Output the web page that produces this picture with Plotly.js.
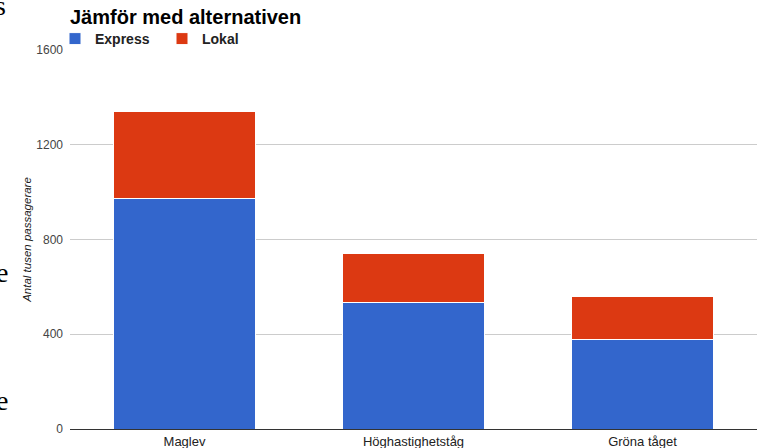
<!DOCTYPE html>
<html>
<head>
<meta charset="utf-8">
<script src="https://cdn.plot.ly/plotly-3.0.1.min.js"></script>
<style>html,body{margin:0;padding:0;background:#fff;}#chart{width:769px;height:448px;}</style>
</head>
<body>
<div id="chart"></div>
<script>
const categories = ["Maglev", "Höghastighetståg", "Gröna tåget"];
const expressValues = [975, 532, 376];
const lokalValues = [367, 211, 185];
const seriesNames = ["Express", "Lokal"];
const yTickValues = [0, 400, 800, 1200, 1600];

const traces = [
  {type: "bar", name: seriesNames[0], x: categories, y: expressValues,
   marker: {color: "#3366cc", line: {color: "#ffffff", width: 1}}, hoverinfo: "none"},
  {type: "bar", name: seriesNames[1], x: categories, y: lokalValues,
   marker: {color: "#dc3912", line: {color: "#ffffff", width: 1}}, hoverinfo: "none"}
];

const L = 70, W = 687;
function px(x){ return (x - L) / W; }

const layout = {
  width: 769, height: 448,
  margin: {l: 70, r: 12, t: 50, b: 19, pad: 0},
  paper_bgcolor: "#ffffff", plot_bgcolor: "#ffffff",
  barmode: "stack", bargap: 0.384,
  font: {family: "Arial, Liberation Sans, sans-serif", color: "#222"},
  title: {text: "Jämför med alternativen", font: {size: 20, color: "#000", weight: "bold"},
          x: px(70), xref: "paper", xanchor: "left", y: 1 - 17/448, yref: "container", yanchor: "middle"},
  showlegend: true,
  legend: {orientation: "h", x: px(55), xanchor: "left", y: 1 - 5/379, yanchor: "bottom",
           font: {size: 14, color: "#222", weight: "bold"}, entrywidth: 62, entrywidthmode: "pixels",
           bgcolor: "rgba(0,0,0,0)", traceorder: "normal", borderwidth: 0},
  xaxis: {type: "category", showgrid: false, showline: true, linecolor: "#333", linewidth: 1,
          tickfont: {size: 13, color: "#222"}, ticks: "", automargin: false, fixedrange: true},
  yaxis: {range: [0, 1600], tickvals: yTickValues, ticktext: yTickValues.map(String),
          showgrid: true, gridcolor: "#cccccc", zeroline: false, showline: false,
          tickfont: {size: 12, color: "#444"}, ticks: "", ticklabelstandoff: 6, automargin: false,
          title: {text: "Antal tusen passagerare", font: {size: 11.5, color: "#222", style: "italic"}, standoff: 2}},
  annotations: [
    {text: "s", xref: "paper", yref: "paper", x: px(8), y: 1 + 44/379, xanchor: "right", yanchor: "middle",
     showarrow: false, font: {family: "Liberation Serif, serif", size: 28, color: "#000"}},
    {text: "e", xref: "paper", yref: "paper", x: px(10), y: (429-272)/379, xanchor: "right", yanchor: "middle",
     showarrow: false, font: {family: "Liberation Serif, serif", size: 28, color: "#000"}},
    {text: "e", xref: "paper", yref: "paper", x: px(10), y: (429-400)/379, xanchor: "right", yanchor: "middle",
     showarrow: false, font: {family: "Liberation Serif, serif", size: 28, color: "#000"}}
  ]
};

Plotly.newPlot("chart", traces, layout, {displayModeBar: false, staticPlot: true});
</script>
</body>
</html>
